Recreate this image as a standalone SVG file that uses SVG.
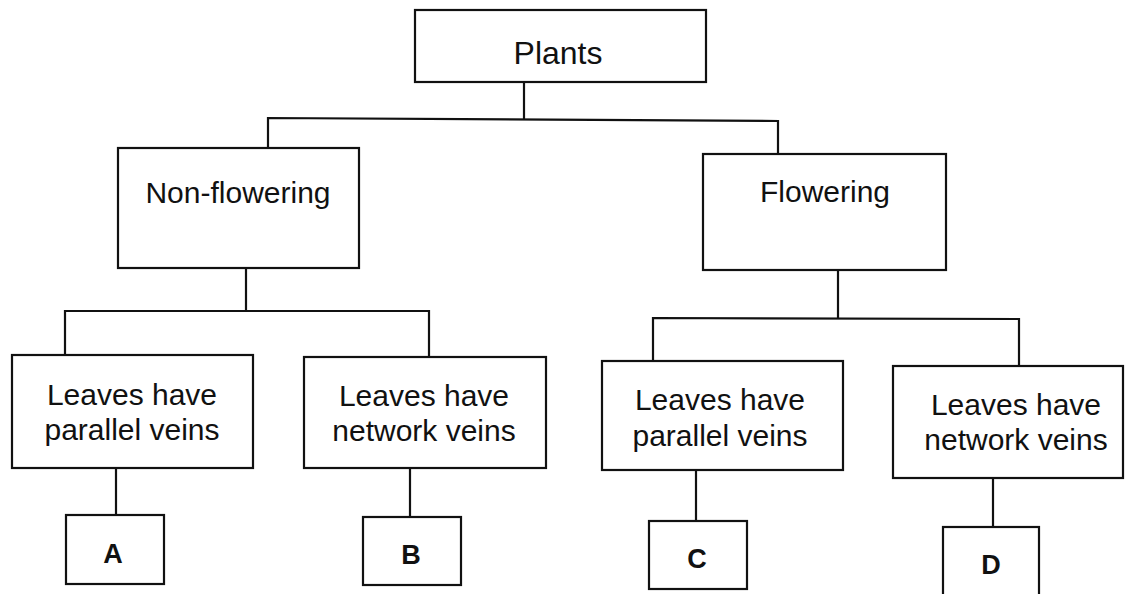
<svg xmlns="http://www.w3.org/2000/svg" width="1129" height="594" viewBox="0 0 1129 594">
<style>
.box{fill:#fff;stroke:#111;stroke-width:2.2}
.ln{fill:none;stroke:#111;stroke-width:2.2}
.t{font-family:"Liberation Sans",Arial,sans-serif;font-size:30px;fill:#111;text-anchor:middle}
.b{font-family:"Liberation Sans",Arial,sans-serif;font-size:27px;font-weight:bold;fill:#111;text-anchor:middle}
</style>
<rect width="1129" height="594" fill="#fff"/>
<g id="connectors">
<polyline class="ln" points="524,82 524,119"/>
<polyline class="ln" points="268,148 268,118 778,121 778,154"/>
<polyline class="ln" points="246,268 246,311"/>
<polyline class="ln" points="65,355 65,311 429,311 429,357"/>
<polyline class="ln" points="838,270 838,319"/>
<polyline class="ln" points="653,361 653,318 1019,319 1019,366"/>
<polyline class="ln" points="116,468 116,515"/>
<polyline class="ln" points="410,468 410,517"/>
<polyline class="ln" points="696,470 696,521"/>
<polyline class="ln" points="993,478 993,527"/>
</g>
<g id="plants">
<rect class="box" x="415" y="10" width="291" height="72"/>
<text class="t" x="558" y="64" style="font-size:32px">Plants</text>
</g>
<g id="nonflowering">
<rect class="box" x="118" y="148" width="241" height="120"/>
<text class="t" x="238" y="203">Non-flowering</text>
</g>
<g id="flowering">
<rect class="box" x="703" y="154" width="243" height="116"/>
<text class="t" x="825" y="202">Flowering</text>
</g>
<g id="np-parallel">
<rect class="box" x="12" y="355" width="241" height="113"/>
<text class="t" x="132" y="405">Leaves have</text>
<text class="t" x="132" y="440">parallel veins</text>
</g>
<g id="np-network">
<rect class="box" x="304" y="357" width="242" height="111"/>
<text class="t" x="424" y="406">Leaves have</text>
<text class="t" x="424" y="441">network veins</text>
</g>
<g id="f-parallel">
<rect class="box" x="602" y="361" width="241" height="109"/>
<text class="t" x="720" y="410">Leaves have</text>
<text class="t" x="720" y="446">parallel veins</text>
</g>
<g id="f-network">
<rect class="box" x="893" y="366" width="230" height="112"/>
<text class="t" x="1016" y="415">Leaves have</text>
<text class="t" x="1016" y="450">network veins</text>
</g>
<g id="A">
<rect class="box" x="66" y="515" width="98" height="69"/>
<text class="b" x="113" y="563">A</text>
</g>
<g id="B">
<rect class="box" x="363" y="517" width="98" height="68"/>
<text class="b" x="411" y="564">B</text>
</g>
<g id="C">
<rect class="box" x="649" y="521" width="98" height="68"/>
<text class="b" x="697" y="568">C</text>
</g>
<g id="D">
<rect class="box" x="943" y="527" width="96" height="80"/>
<text class="b" x="991" y="574">D</text>
</g>
</svg>
